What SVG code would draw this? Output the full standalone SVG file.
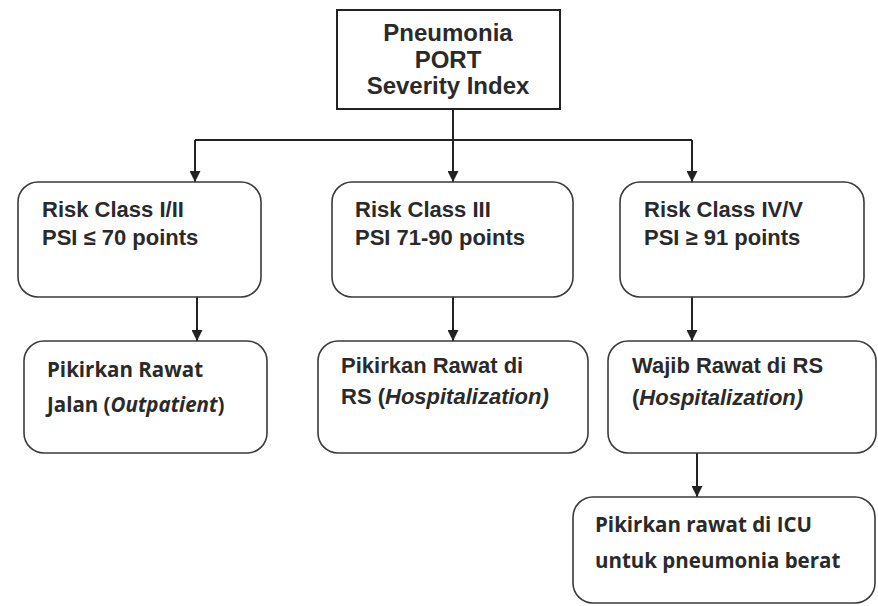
<svg xmlns="http://www.w3.org/2000/svg" width="878" height="606" viewBox="0 0 878 606">
<style>
.top{fill:#fff;stroke:#222;stroke-width:2}
.box{fill:#fff;stroke:#3a3a3a;stroke-width:1.6}
.ta{font-family:"Liberation Sans",Arial,sans-serif;font-weight:bold;fill:#2a2a2a}
.tb{font-family:"Open Sans","Noto Sans",sans-serif;font-weight:700;fill:#2a2a2a}
.c{fill:none;stroke:#222;stroke-width:2}
</style>
<defs>
<marker id="ah" viewBox="0 0 10 10" refX="10" refY="5" markerWidth="11" markerHeight="11" markerUnits="userSpaceOnUse" orient="auto">
<path d="M0,0 L10,5 L0,10 z" fill="#222"/>
</marker>
</defs>
<g id="connectors">
<path class="c" d="M453,109 V140"/>
<path class="c" d="M195,140 H692"/>
<path class="c" d="M195,140 V182" marker-end="url(#ah)"/>
<path class="c" d="M453,140 V182" marker-end="url(#ah)"/>
<path class="c" d="M692,140 V182" marker-end="url(#ah)"/>
<path class="c" d="M197,297 V341" marker-end="url(#ah)"/>
<path class="c" d="M453,297 V341" marker-end="url(#ah)"/>
<path class="c" d="M692,297 V341" marker-end="url(#ah)"/>
<path class="c" d="M697,453 V497" marker-end="url(#ah)"/>
</g>
<g id="psi">
<rect class="top" x="337" y="10" width="223" height="99"/>
<text class="ta" font-size="24" text-anchor="middle" x="448" y="41">Pneumonia</text>
<text class="ta" font-size="24" text-anchor="middle" x="448" y="68">PORT</text>
<text class="ta" font-size="24" text-anchor="middle" x="448" y="94">Severity Index</text>
</g>
<g id="class12">
<rect class="box" x="18" y="182" width="243" height="115" rx="20"/>
<text class="ta" font-size="22" x="42" y="217">Risk Class I/II</text>
<text class="ta" font-size="22" x="42" y="245">PSI ≤ 70 points</text>
</g>
<g id="class3">
<rect class="box" x="332" y="182" width="241" height="115" rx="20"/>
<text class="ta" font-size="22" x="355" y="217">Risk Class III</text>
<text class="ta" font-size="22" x="355" y="245">PSI 71-90 points</text>
</g>
<g id="class45">
<rect class="box" x="620" y="182" width="244" height="115" rx="20"/>
<text class="ta" font-size="22" x="644" y="217">Risk Class IV/V</text>
<text class="ta" font-size="22" x="644" y="245">PSI ≥ 91 points</text>
</g>
<g id="outpatient">
<rect class="box" x="24" y="341" width="243" height="112" rx="20"/>
<text class="tb" font-size="20.5" x="47" y="377">Pikirkan Rawat</text>
<text class="tb" font-size="20.5" x="47" y="412">Jalan (<tspan font-style="italic">Outpatient</tspan>)</text>
</g>
<g id="hosp3">
<rect class="box" x="318" y="341" width="270" height="112" rx="20"/>
<text class="ta" font-size="22" x="341" y="373">Pikirkan Rawat di</text>
<text class="ta" font-size="22" x="341" y="404">RS (<tspan font-style="italic">Hospitalization)</tspan></text>
</g>
<g id="hosp45">
<rect class="box" x="608" y="341" width="268" height="112" rx="20"/>
<text class="ta" font-size="22" x="632" y="373">Wajib Rawat di RS</text>
<text class="ta" font-size="22" x="632" y="405">(<tspan font-style="italic">Hospitalization)</tspan></text>
</g>
<g id="icu">
<rect class="box" x="573" y="497" width="302" height="106" rx="20"/>
<text class="tb" font-size="20.5" x="595" y="532">Pikirkan rawat di ICU</text>
<text class="tb" font-size="20.5" x="595" y="568">untuk pneumonia berat</text>
</g>
</svg>
